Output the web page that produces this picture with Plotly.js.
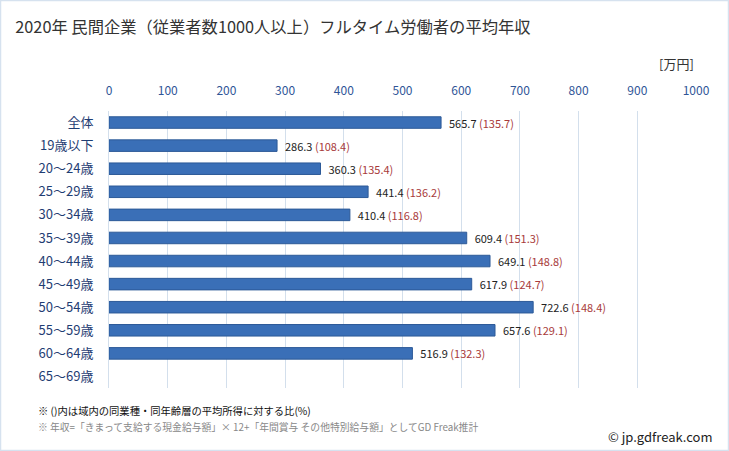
<!DOCTYPE html>
<html><head><meta charset="utf-8">
<script src="https://cdn.plot.ly/plotly-3.0.1.min.js"></script>
<style>html,body{margin:0;padding:0;background:#fff}#c{width:729px;height:451px}</style>
</head><body><div id="c"></div>
<script>
const categories = ["全体","19歳以下","20～24歳","25～29歳","30～34歳","35～39歳","40～44歳","45～49歳","50～54歳","55～59歳","60～64歳","65～69歳"];
const incomes = [565.7, 286.3, 360.3, 441.4, 410.4, 609.4, 649.1, 617.9, 722.6, 657.6, 516.9, null];
const ratios = [135.7, 108.4, 135.4, 136.2, 116.8, 151.3, 148.8, 124.7, 148.4, 129.1, 132.3, null];
const xTicks = [0,100,200,300,400,500,600,700,800,900,1000];

const font = "'Noto Sans CJK JP', 'Noto Sans', sans-serif";
const labels = incomes.map((v,i) => v == null ? "" :
  "\u00a0\u00a0" + v.toFixed(1) + " <span style='color:#a83a3a'>(" + ratios[i].toFixed(1) + ")</span>");

const trace = {
  type: 'bar', orientation: 'h',
  y: categories, x: incomes,
  width: 0.5,
  marker: {color: '#3a6fb7', line: {color: '#2d5a98', width: 1}},
  text: labels, textposition: 'outside', cliponaxis: false, constraintext: 'none',
  textfont: {family: font, size: 11, color: '#222'},
  hoverinfo: 'none'
};

const layout = {
  width: 729, height: 451,
  margin: {l: 109, r: 33, t: 111, b: 63},
  paper_bgcolor: '#fff', plot_bgcolor: '#fff',
  showlegend: false,
  bargap: 0.5,
  title: {text: '2020年 民間企業（従業者数1000人以上）フルタイム労働者の平均年収',
    x: 0.021, xanchor: 'left', y: 0.94, yanchor: 'middle',
    font: {family: font, size: 16.3, color: '#333'}},
  xaxis: {side: 'top', range: [0, 1000], tickvals: xTicks, ticktext: xTicks.map(String),
    showgrid: true, gridcolor: '#d3dfec', gridwidth: 1, zeroline: false,
    ticks: 'outside', ticklen: 10, tickcolor: 'rgba(0,0,0,0)',
    tickfont: {family: font, size: 12, color: '#2f5597'}, showline: false, fixedrange: true},
  yaxis: {autorange: 'reversed', type: 'category',
    ticks: 'outside', ticklen: 12, tickcolor: 'rgba(0,0,0,0)',
    tickfont: {family: font, size: 13, color: '#1f3d73'}, showline: true, linecolor: '#d3dfec',
    showgrid: false, fixedrange: true},
  annotations: [
    {text: '[万円]', xref: 'paper', yref: 'paper', x: 1.0, y: 1.17, xanchor: 'right', yanchor: 'middle',
     showarrow: false, font: {family: font, size: 13, color: '#333'}},
    {text: '※ ()内は域内の同業種・同年齢層の平均所得に対する比(%)', xref: 'paper', yref: 'paper',
     x: -0.124, y: -0.08, xanchor: 'left', yanchor: 'middle', showarrow: false,
     font: {family: font, size: 10.3, color: '#111'}},
    {text: '※ 年収=「きまって支給する現金給与額」× 12+「年間賞与 その他特別給与額」としてGD Freak推計', xref: 'paper', yref: 'paper',
     x: -0.124, y: -0.14, xanchor: 'left', yanchor: 'middle', showarrow: false,
     font: {family: font, size: 9.8, color: '#888'}},
    {text: '© jp.gdfreak.com', xref: 'paper', yref: 'paper',
     x: 1.032, y: -0.175, xanchor: 'right', yanchor: 'middle', showarrow: false,
     font: {family: font, size: 13, color: '#222'}}
  ]
};

Plotly.newPlot('c', [trace], layout, {staticPlot: true, displayModeBar: false}).then(() => {
  const svg = document.querySelector('#c .main-svg');
  const r = document.createElementNS('http://www.w3.org/2000/svg', 'rect');
  r.setAttribute('x', 0.5); r.setAttribute('y', 0.5);
  r.setAttribute('width', 728); r.setAttribute('height', 450);
  r.setAttribute('fill', 'none'); r.setAttribute('stroke', '#d6e2ef'); r.setAttribute('stroke-width', 1.5);
  svg.appendChild(r);
});
</script></body></html>
